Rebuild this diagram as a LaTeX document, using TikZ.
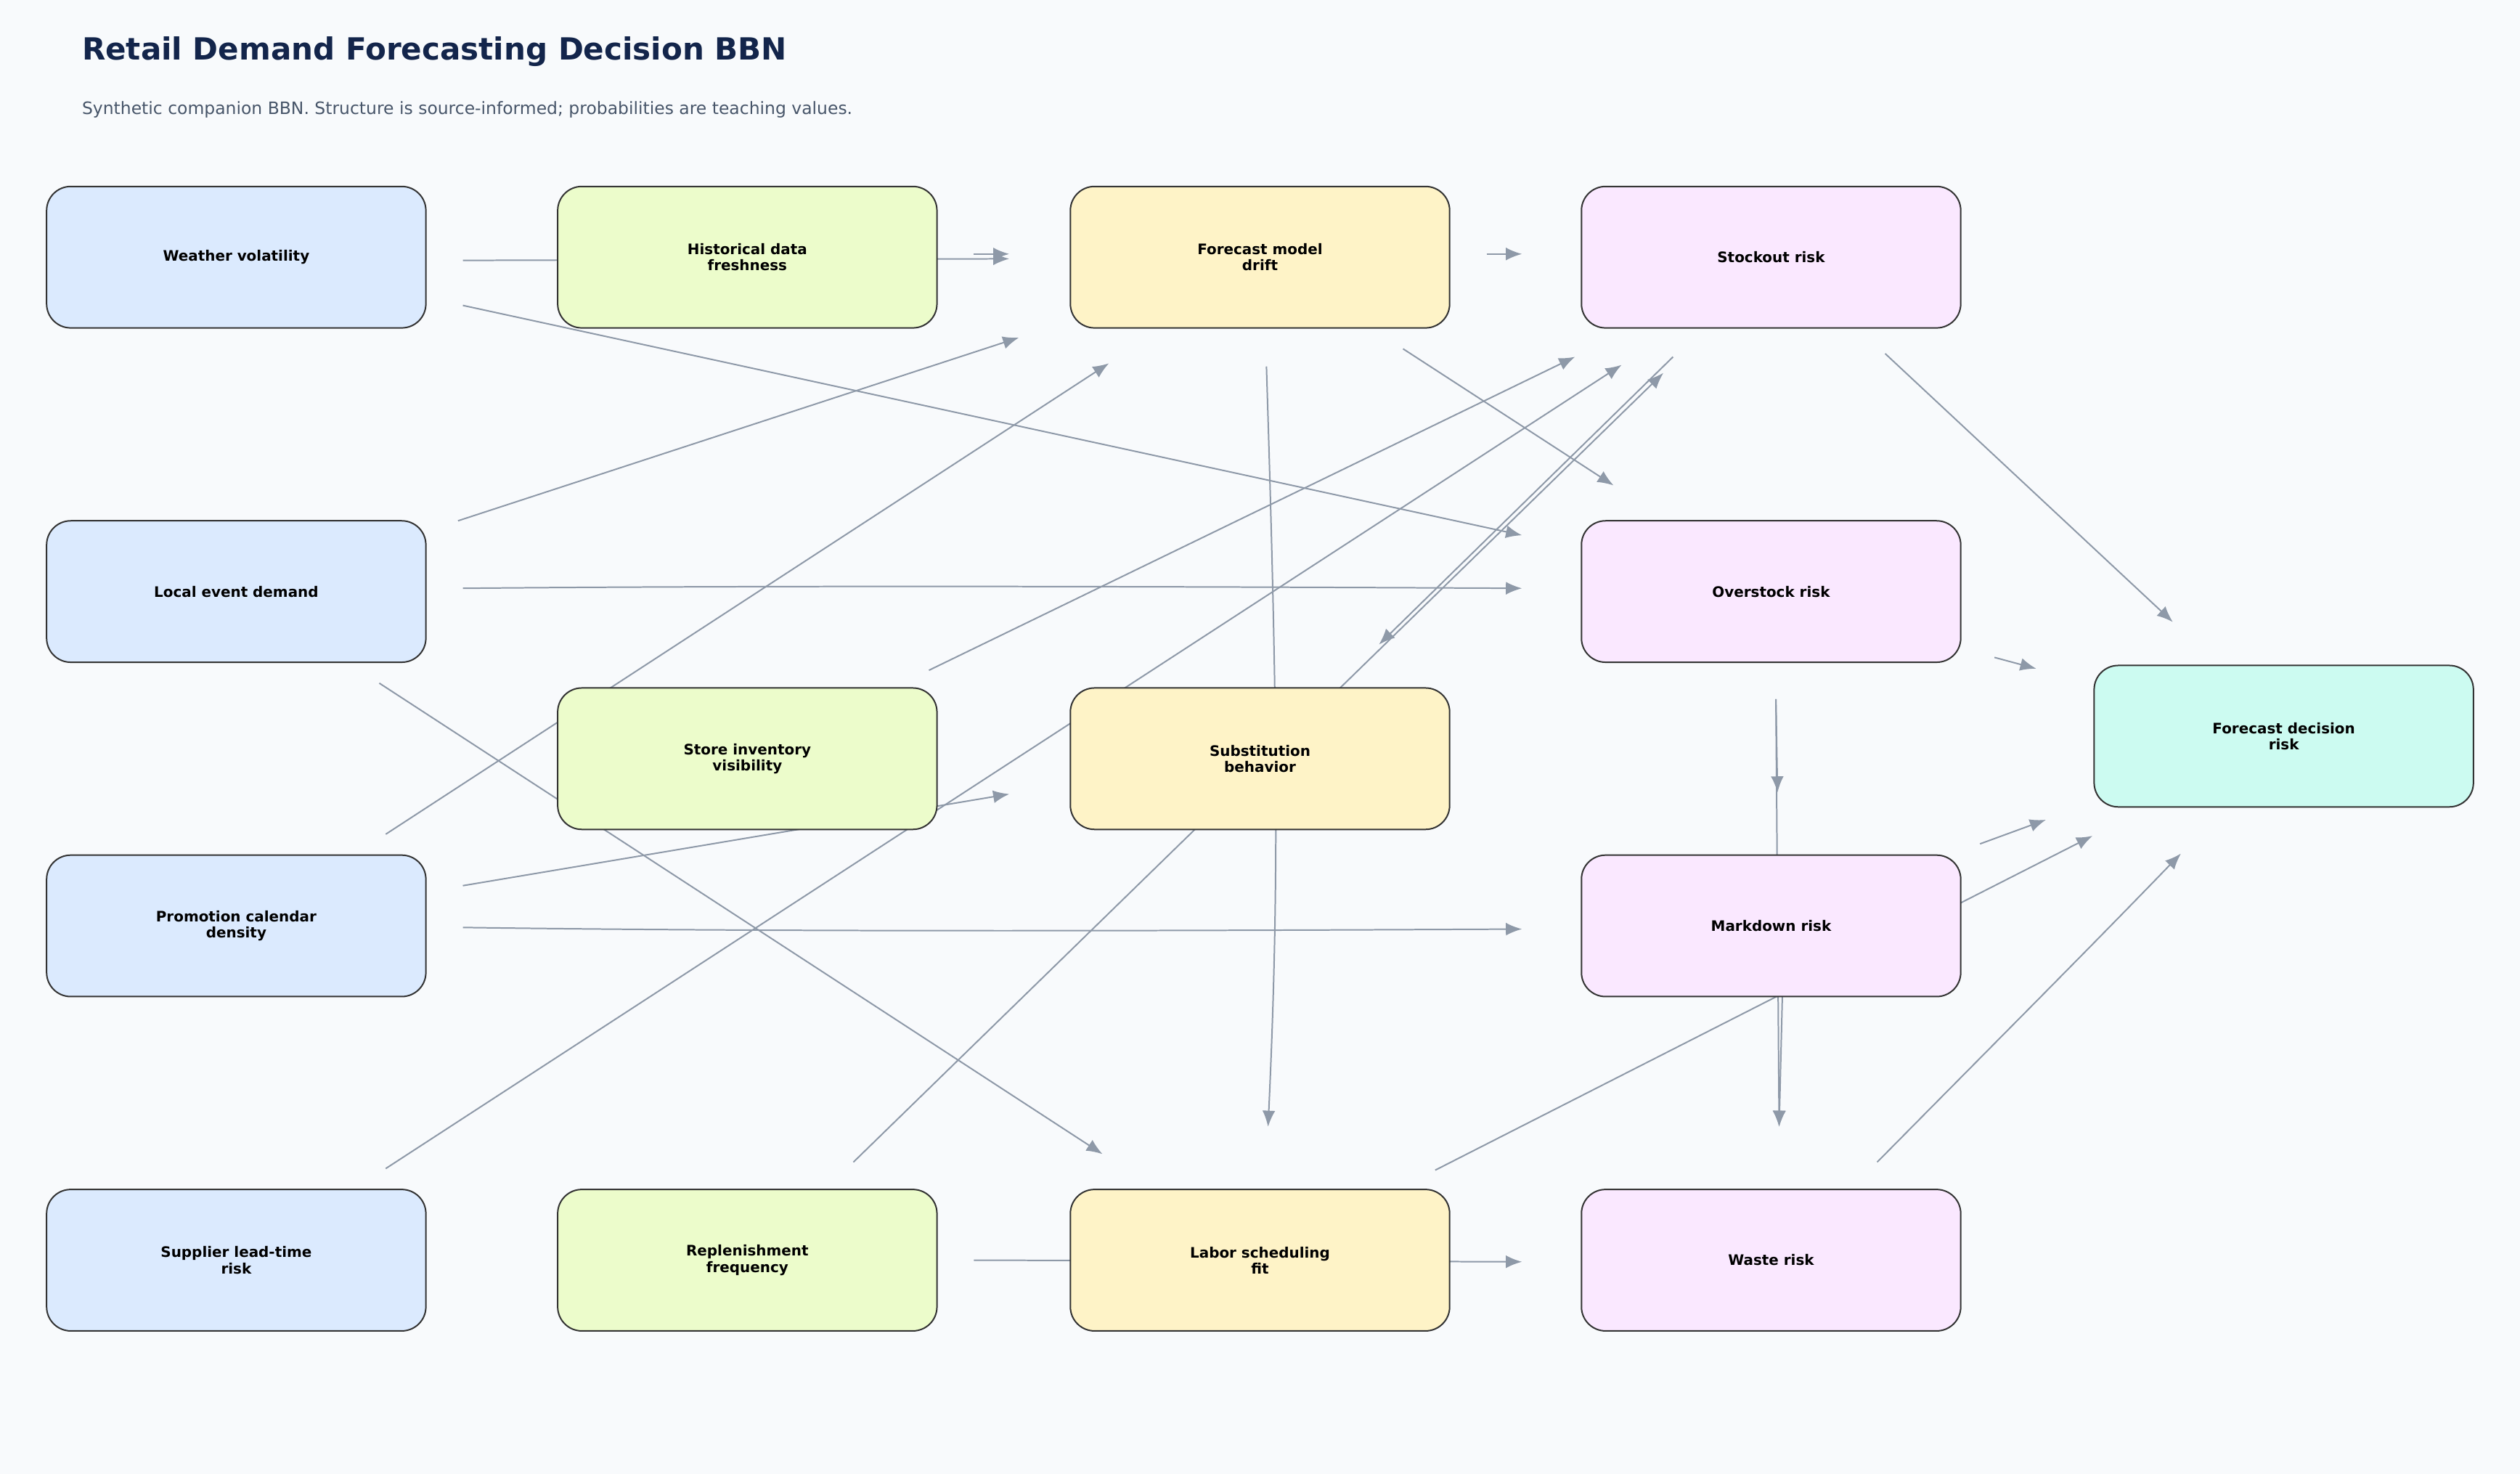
\documentclass[tikz,border=0pt]{standalone}
\usepackage{fontspec}
\setmainfont{DejaVu Sans}
\usetikzlibrary{arrows.meta}
\definecolor{bg}{HTML}{F8FAFC}
\definecolor{cblue}{HTML}{DBEAFE}
\definecolor{cgreen}{HTML}{ECFCCB}
\definecolor{cyel}{HTML}{FEF3C7}
\definecolor{cpink}{HTML}{FAE8FF}
\definecolor{cteal}{HTML}{CCFBF1}
\definecolor{edgec}{HTML}{8E99A8}
\definecolor{titlec}{HTML}{13254B}
\definecolor{subc}{HTML}{475569}
\begin{document}
\begin{tikzpicture}[x=0.5pt,y=-0.5pt,
  box/.style={draw=black!80,line width=0.45pt,rounded corners=7.5pt,minimum width=118pt,minimum height=44pt,align=center,font=\fontsize{4.5}{5}\selectfont\bfseries},
  edge/.style={draw=edgec,line width=0.45pt,-{Latex[length=5pt,width=4pt]}}]
\fill[bg] (0,0) rectangle (1568,917);
\node[anchor=west,font=\fontsize{9.5}{11}\selectfont\bfseries,text=titlec] (title) at (44,32) {Retail Demand Forecasting Decision BBN};
\node[anchor=west,font=\fontsize{5.3}{6}\selectfont,text=subc] (sub) at (44,68) {Synthetic companion BBN. Structure is source-informed; probabilities are teaching values.};
% endpoints
\foreach \n/\p in {a1/{288,162},a2/{628,161},b1/{606,158},b2/{628,158},c1/{925,158},c2/{947,158},
 d1/{288,190},d2/{947,333},e1/{285,324},e2/{634,210},f1/{288,366},f2/{947,366},g1/{236,425},g2/{686,718},
 h1/{240,519},h2/{690,226},i1/{288,551},i2/{628,494},j1/{288,577},j2/{947,578},k1/{240,727},k2/{1009,227},
 l1/{531,723},l2/{1035,232},m1/{1041,222},m2/{858,401},n1/{578,417},n2/{980,222},o1/{873,217},o2/{1004,302},
 p1/{788,228},p2/{789,701},q1/{1173,220},q2/{1352,387},r1/{1241,409},r2/{1267,416},s1/{1105,435},s2/{1106,493},
 t1/{1105,435},t2/{1107,701},u1/{1232,525},u2/{1273,510},v1/{893,728},v2/{1302,520},w1/{1109,620},w2/{1107,701},
 x1/{606,784},x2/{947,785},y1/{1168,723},y2/{1357,531}}
 {\coordinate (\n) at (\p);}
\draw[edge] (a1) -- (a2);
\draw[edge] (b1) -- (b2);
\draw[edge] (c1) -- (c2);
\draw[edge] (d1) -- (d2);
\draw[edge] (e1) -- (e2);
\draw[edge] (f1) .. controls (500,364) and (750,365) .. (f2);
\draw[edge] (g1) -- (g2);
\draw[edge] (h1) -- (h2);
\draw[edge] (i1) -- (i2);
\draw[edge] (j1) .. controls (500,580) and (750,579) .. (j2);
\draw[edge] (k1) -- (k2);
\draw[edge] (l1) -- (l2);
\draw[edge] (m1) -- (m2);
\draw[edge] (n1) -- (n2);
\draw[edge] (o1) -- (o2);
\draw[edge] (p1) .. controls (795,450) and (796,550) .. (p2);
\draw[edge] (q1) -- (q2);
\draw[edge] (r1) -- (r2);
\draw[edge] (s1) -- (s2);
\draw[edge] (t1) -- (t2);
\draw[edge] (u1) -- (u2);
\draw[edge] (v1) -- (v2);
\draw[edge] (w1) -- (w2);
\draw[edge] (x1) -- (x2);
\draw[edge] (y1) .. controls (1250,640) and (1300,590) .. (y2);
% nodes
\node[box,fill=cblue] (wv) at (147,160) {Weather volatility};
\node[box,fill=cblue] (le) at (147,368) {Local event demand};
\node[box,fill=cblue] (pc) at (147,576) {Promotion calendar\\density};
\node[box,fill=cblue] (sl) at (147,784) {Supplier lead-time\\risk};
\node[box,fill=cgreen] (hd) at (465,160) {Historical data\\freshness};
\node[box,fill=cgreen] (si) at (465,472) {Store inventory\\visibility};
\node[box,fill=cgreen] (rf) at (465,784) {Replenishment\\frequency};
\node[box,fill=cyel] (fm) at (784,160) {Forecast model\\drift};
\node[box,fill=cyel] (sb) at (784,472) {Substitution\\behavior};
\node[box,fill=cyel] (ls) at (784,784) {Labor scheduling\\fit};
\node[box,fill=cpink] (so) at (1102,160) {Stockout risk};
\node[box,fill=cpink] (or) at (1102,368) {Overstock risk};
\node[box,fill=cpink] (mr) at (1102,576) {Markdown risk};
\node[box,fill=cpink] (wr) at (1102,784) {Waste risk};
\node[box,fill=cteal] (fd) at (1421,458) {Forecast decision\\risk};
\end{tikzpicture}
\end{document}
